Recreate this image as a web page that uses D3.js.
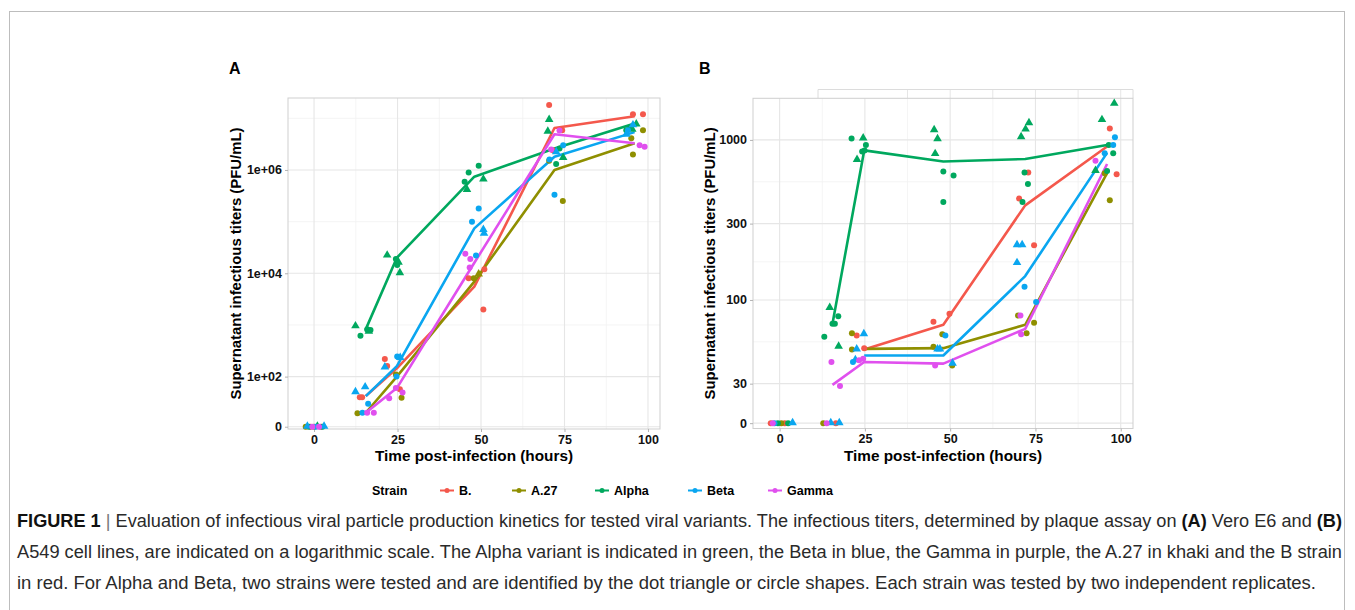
<!DOCTYPE html>
<html>
<head>
<meta charset="utf-8">
<script src="https://cdn.jsdelivr.net/npm/d3@7"></script>
<style>
  body { margin: 0; background: #fff; }
  svg { display: block; }
</style>
</head>
<body>
<script>
// strains and their colours (ggplot hue palette, a little deeper as printed)
var strains = ["B.", "A.27", "Alpha", "Beta", "Gamma"];
var strainColors = ["#F4584C", "#8F8F00", "#00A85E", "#0AA6F0", "#E050EE"];

// hours where the mean lines have their vertices
var lineHours = [15.5, 24.8, 48, 72, 96];

// panel A (Vero E6) mean lines, PFU/mL, null = no vertex
var lineA_B     = [42, 145, 5500, 6.5e6, 1.1e7];
var lineA_A27   = [20, 100, 6900, 1.0e6, 3.3e6];
var lineA_Alpha = [830, 2.0e4, 7.4e5, 2.6e6, 7.9e6];
var lineA_Beta  = [42, 160, 7.4e4, 1.8e6, 5.4e6];
var lineA_Gamma = [20, 60, 1.6e4, 4.9e6, 3.3e6];

// panel B (A549) mean lines
var lineB_B     = [null, 49, 70, 390, 910];
var lineB_A27   = [null, 49.5, 50, 70, 620];
var lineB_Alpha = [71, 860, 733, 760, 930];
var lineB_Beta  = [null, 45, 45, 141, 830];
var lineB_Gamma = [29.5, 41, 40, 66, 707];

// replicate points: [hour (as jittered), titer, shape c=circle t=triangle]
var ptsA_B = [[-1, 0, "c"], [2, 0, "c"], [13.7, 40, "c"], [14.4, 40, "c"], [21.2, 220, "c"], [21.9, 160, "c"], [25.7, 57, "c"],
  [46.3, 8000, "c"], [51, 1.2e4, "c"], [50.7, 2000, "c"], [70.4, 1.8e7, "c"], [74.3, 5.9e6, "c"], [71.5, 2.4e6, "c"],
  [95.5, 1.2e7, "c"], [98.5, 1.2e7, "c"]];
var ptsA_A27 = [[0, 0, "c"], [-2.5, 0, "c"], [13, 19.5, "c"], [24.5, 110, "c"], [26.2, 39, "c"],
  [47.8, 8000, "c"], [49.3, 9500, "t"], [70.4, 1.5e6, "c"], [74.5, 2.5e5, "c"],
  [98.5, 5.9e6, "c"], [95, 4.1e6, "c"], [95.5, 2.0e6, "c"]];
var ptsA_Alpha = [[-1.5, 0, "c"], [1, 0, "t"], [2.5, 0, "c"], [12.4, 940, "t"], [13.9, 620, "c"], [15.9, 820, "c"], [16.9, 800, "c"], [16.4, 740, "t"],
  [21.9, 2.2e4, "t"], [24.5, 1.9e4, "c"], [25.3, 1.6e4, "t"], [25.7, 1.0e4, "t"], [24.9, 1.45e4, "c"],
  [46.3, 8.9e5, "c"], [49.3, 1.2e6, "c"], [45.1, 5.9e5, "c"], [45.8, 4.1e5, "t"], [50.7, 6.5e5, "t"],
  [70.4, 9.3e6, "t"], [70, 5.5e6, "t"], [72.5, 1.3e6, "c"], [74.6, 1.7e6, "t"], [73.5, 2.6e6, "c"],
  [96.5, 7.6e6, "t"], [93.5, 5.9e6, "c"], [94.5, 6.5e6, "c"], [95.3, 6.0e6, "t"]];
var ptsA_Beta = [[-2, 0, "t"], [0.5, 0, "c"], [3, 0, "t"], [12.4, 50, "t"], [15.3, 62, "t"], [16.2, 30, "c"], [14.5, 20, "c"],
  [21.2, 150, "t"], [24.9, 245, "c"], [25.8, 230, "t"], [24.7, 100, "c"],
  [49.3, 1.8e5, "c"], [47.3, 1.0e5, "c"], [50.7, 6.9e4, "t"], [50.9, 5.8e4, "t"], [48.5, 2.2e4, "c"],
  [72, 3.3e5, "c"], [74.6, 3.0e6, "c"], [72.5, 2.2e6, "t"], [70.5, 1.6e6, "c"],
  [94, 5.9e6, "c"], [95.5, 7.3e6, "t"], [93.5, 4.8e6, "t"]];
var ptsA_Gamma = [[1.5, 0, "c"], [-0.5, 0, "c"], [15.9, 20, "c"], [17.9, 20, "c"], [22.5, 38, "c"], [26.5, 49, "c"], [24.5, 60, "c"],
  [45.3, 2.4e4, "c"], [46.8, 1.9e4, "c"], [46.6, 1.3e4, "c"], [73.5, 5.8e6, "c"], [71, 2.5e6, "c"],
  [97.5, 3.0e6, "c"], [99, 2.8e6, "c"]];

var ptsB_B = [[-2.6, 0, "c"], [1.5, 0, "c"], [16.5, 0, "c"], [22.6, 60, "c"], [24.8, 50, "c"],
  [45.1, 73, "c"], [49.8, 82, "c"], [72.9, 625, "c"], [70.2, 430, "c"], [74.6, 220, "c"],
  [96.8, 1180, "c"], [98.8, 610, "c"]];
var ptsB_A27 = [[0.5, 0, "c"], [12.8, 0, "c"], [21.2, 62, "c"], [21.2, 49, "c"],
  [47.7, 61, "c"], [45.1, 51, "c"], [50.6, 39, "c"], [69.9, 80, "c"], [72.4, 62, "c"], [74.6, 72, "c"],
  [96.8, 420, "c"], [95.3, 620, "c"]];
var ptsB_Alpha = [[-0.5, 0, "c"], [2.5, 0, "c"], [14.7, 89, "t"], [17.2, 79, "c"], [15.5, 71, "c"], [16.2, 71, "c"], [13.1, 59, "c"], [17.3, 51, "t"],
  [21.1, 1020, "c"], [24.5, 1020, "t"], [25.3, 930, "c"], [24.2, 845, "c"], [24.9, 860, "c"], [22.7, 750, "t"],
  [45.3, 1150, "t"], [46.3, 1010, "t"], [45.6, 815, "t"], [48, 635, "c"], [51, 600, "c"], [48, 410, "c"],
  [70.8, 1040, "t"], [72.1, 1160, "t"], [73.1, 1270, "t"], [71.8, 625, "c"], [72.8, 530, "c"], [71.2, 410, "c"],
  [94.5, 1330, "t"], [98.1, 1680, "t"], [92.6, 640, "t"], [97.8, 825, "c"], [96.5, 930, "c"], [96, 640, "c"]];
var ptsB_Beta = [[-1.5, 0, "c"], [3.8, 0, "t"], [15, 0, "t"], [17.5, 0, "t"],
  [24.7, 61, "t"], [22.6, 49, "t"], [21.5, 41, "c"], [22.2, 42, "t"],
  [48.6, 60, "c"], [46.3, 49, "t"], [47, 49, "t"], [50.7, 40, "t"],
  [69.6, 220, "t"], [71.1, 220, "t"], [69.6, 170, "t"], [71.8, 121, "c"], [75.2, 97, "c"],
  [98.3, 1040, "c"], [97.8, 930, "c"], [95.3, 825, "c"]];
var ptsB_Gamma = [[-2, 0, "c"], [13.8, 0, "c"], [15.2, 41, "c"], [17.7, 29, "c"], [23.3, 42, "c"], [24.5, 43, "c"],
  [45.6, 39, "c"], [70.6, 80, "c"], [70.8, 61, "c"], [92.6, 740, "c"]];

// tick labels
var xTicks = [0, 25, 50, 75, 100];
var yTicksA = [0, 1e2, 1e4, 1e6];
var yTickLabelsA = ["0", "1e+02", "1e+04", "1e+06"];
var yMinorA = [1e3, 1e5, 1e7];
var yTicksB = [0, 30, 100, 300, 1000];
var yTickLabelsB = ["0", "30", "100", "300", "1000"];
var yMinorB = [54.8, 173.2, 547.7];

var captionLines = [
  [["FIGURE 1", "b"], [" | ", "bar"], ["Evaluation of infectious viral particle production kinetics for tested viral variants. The infectious titers, determined by plaque assay on ", "n"], ["(A)", "b"], [" Vero E6 and ", "n"], ["(B)", "b"]],
  [["A549 cell lines, are indicated on a logarithmic scale. The Alpha variant is indicated in green, the Beta in blue, the Gamma in purple, the A.27 in khaki and the B strain", "n"]],
  [["in red. For Alpha and Beta, two strains were tested and are identified by the dot triangle or circle shapes. Each strain was tested by two independent replicates.", "n"]]
];

var W = 1355, H = 610;
var svg = d3.select("body").append("svg").attr("width", W).attr("height", H)
  .style("font-family", "'Liberation Sans', Arial, sans-serif");

// outer frame
svg.append("rect").attr("x", 9.5).attr("y", 11.5).attr("width", 1335).attr("height", 620)
  .attr("fill", "none").attr("stroke", "#bdbdbd").attr("stroke-width", 1);

function drawPanel(cfg) {
  var x = d3.scaleLinear().domain([-7.8, 103.6]).range([cfg.left, cfg.right]);
  var y = d3.scaleLog().domain(cfg.yDomain).range([cfg.bottom, cfg.top]);
  var yv = function(v) { return y(v === 0 ? cfg.zero : v); };
  var g = svg.append("g");

  // minor grid
  [12.5, 37.5, 62.5, 87.5].forEach(function(t) {
    g.append("line").attr("x1", x(t)).attr("x2", x(t)).attr("y1", cfg.top).attr("y2", cfg.bottom)
      .attr("stroke", "#f1f1f1").attr("stroke-width", 0.8);
  });
  cfg.yMinor.forEach(function(v) {
    if (y(v) < cfg.top) return;
    g.append("line").attr("x1", cfg.left).attr("x2", cfg.right).attr("y1", y(v)).attr("y2", y(v))
      .attr("stroke", "#f1f1f1").attr("stroke-width", 0.8);
  });
  // major grid
  xTicks.forEach(function(t) {
    g.append("line").attr("x1", x(t)).attr("x2", x(t)).attr("y1", cfg.top).attr("y2", cfg.bottom)
      .attr("stroke", "#e6e6e6").attr("stroke-width", 1.1);
  });
  cfg.yTicks.forEach(function(v) {
    g.append("line").attr("x1", cfg.left).attr("x2", cfg.right).attr("y1", yv(v)).attr("y2", yv(v))
      .attr("stroke", "#e6e6e6").attr("stroke-width", 1.1);
  });
  g.append("rect").attr("x", cfg.left).attr("y", cfg.top)
    .attr("width", cfg.right - cfg.left).attr("height", cfg.bottom - cfg.top)
    .attr("fill", "none").attr("stroke", "#cfcfcf").attr("stroke-width", 1);

  // axes
  var ax = g.append("g").attr("transform", "translate(" + cfg.left + ",0)")
    .call(d3.axisLeft(y).tickValues(cfg.yTicks.map(function(v) { return v === 0 ? cfg.zero : v; }))
      .tickFormat(function(d, i) { return cfg.yLabels[i]; }).tickSize(3).tickPadding(3));
  var bx = g.append("g").attr("transform", "translate(0," + cfg.bottom + ")")
    .call(d3.axisBottom(x).tickValues(xTicks).tickFormat(d3.format("d")).tickSize(3).tickPadding(3));
  [ax, bx].forEach(function(a) {
    a.select(".domain").remove();
    a.selectAll(".tick line").attr("stroke", "#b3b3b3");
    a.selectAll(".tick text").attr("fill", "#111").style("font-size", "12.5px").style("font-weight", "bold")
      .style("font-family", "'Liberation Sans', Arial, sans-serif");
  });

  // lines
  var line = d3.line().defined(function(d) { return d[1] !== null; })
    .x(function(d) { return x(d[0]); }).y(function(d) { return y(d[1]); });
  cfg.lines.forEach(function(vals, i) {
    var pts = vals.map(function(v, j) { return [lineHours[j], v]; });
    g.append("path").datum(pts).attr("d", line).attr("fill", "none")
      .attr("stroke", strainColors[i]).attr("stroke-width", 2.6).attr("stroke-linejoin", "round");
  });

  // points
  var tri = d3.symbol().type(d3.symbolTriangle).size(32);
  cfg.points.forEach(function(pts, i) {
    var pg = g.append("g").attr("fill", strainColors[i]);
    pg.selectAll("circle").data(pts.filter(function(p) { return p[2] === "c"; })).enter().append("circle")
      .attr("cx", function(p) { return x(p[0]); }).attr("cy", function(p) { return yv(p[1]); }).attr("r", 3);
    pg.selectAll("path").data(pts.filter(function(p) { return p[2] === "t"; })).enter().append("path")
      .attr("d", tri)
      .attr("transform", function(p) { return "translate(" + x(p[0]) + "," + (yv(p[1]) - 0.5) + ")"; });
  });

  // titles
  svg.append("text").attr("x", cfg.labelX).attr("y", 74).text(cfg.label)
    .style("font-size", "16px").style("font-weight", "bold");
  svg.append("text").attr("transform", "translate(" + cfg.yTitleX + "," + ((cfg.top + cfg.bottom) / 2) + ") rotate(-90)")
    .attr("text-anchor", "middle").text("Supernatant infectious titers (PFU/mL)")
    .attr("textLength", 272).attr("lengthAdjust", "spacingAndGlyphs")
    .style("font-size", "15px").style("font-weight", "bold");
  svg.append("text").attr("x", (cfg.left + cfg.right) / 2).attr("y", 461)
    .attr("text-anchor", "middle").text("Time post-infection (hours)")
    .attr("textLength", 198).attr("lengthAdjust", "spacingAndGlyphs")
    .style("font-size", "15px").style("font-weight", "bold");
  return x;
}

drawPanel({
  left: 288, right: 660, top: 98, bottom: 429,
  yDomain: [Math.pow(10, 0.986), Math.pow(10, 7.393)], zero: Math.pow(10, 1.03),
  yTicks: yTicksA, yLabels: yTickLabelsA, yMinor: yMinorA,
  lines: [lineA_B, lineA_A27, lineA_Alpha, lineA_Beta, lineA_Gamma],
  points: [ptsA_B, ptsA_A27, ptsA_Alpha, ptsA_Beta, ptsA_Gamma],
  label: "A", labelX: 229, yTitleX: 241
});

// small strip above panel B (as in the source figure)
var xb = d3.scaleLinear().domain([-7.8, 103.6]).range([753, 1133]);
[37.5, 50, 62.5, 75, 87.5, 100].forEach(function(t) {
  svg.append("line").attr("x1", xb(t)).attr("x2", xb(t)).attr("y1", 89).attr("y2", 98)
    .attr("stroke", "#e6e6e6").attr("stroke-width", 1);
});
svg.append("polyline").attr("points", "818,98 818,89.5 1133,89.5 1133,98")
  .attr("fill", "none").attr("stroke", "#dcdcdc").attr("stroke-width", 1);

drawPanel({
  left: 753, right: 1133, top: 98.3, bottom: 428.5,
  yDomain: [Math.pow(10, 1.197), Math.pow(10, 3.26)], zero: 17,
  yTicks: yTicksB, yLabels: yTickLabelsB, yMinor: yMinorB,
  lines: [lineB_B, lineB_A27, lineB_Alpha, lineB_Beta, lineB_Gamma],
  points: [ptsB_B, ptsB_A27, ptsB_Alpha, ptsB_Beta, ptsB_Gamma],
  label: "B", labelX: 699, yTitleX: 715
});

// legend
var legX = [440, 512, 595, 688, 768];
var lg = svg.append("g").style("font-size", "12.5px").style("font-weight", "bold");
lg.append("text").attr("x", 372).attr("y", 495).text("Strain");
strains.forEach(function(s, i) {
  lg.append("line").attr("x1", legX[i]).attr("x2", legX[i] + 14).attr("y1", 490.5).attr("y2", 490.5)
    .attr("stroke", strainColors[i]).attr("stroke-width", 2);
  lg.append("circle").attr("cx", legX[i] + 7).attr("cy", 490.5).attr("r", 2.5).attr("fill", strainColors[i]);
  lg.append("text").attr("x", legX[i] + 19).attr("y", 495).text(s);
});

// caption (condensed look: larger glyphs squeezed to the printed line width)
var capY = [527, 558, 589];
var capW = [1325, 1325, 1299];
captionLines.forEach(function(parts, i) {
  var t = svg.append("text").attr("x", 17).attr("y", capY[i])
    .attr("textLength", capW[i]).attr("lengthAdjust", "spacingAndGlyphs")
    .style("font-family", "'Liberation Sans Narrow', 'Arial Narrow', 'Liberation Sans', sans-serif")
    .style("font-size", "17.5px").attr("fill", "#2a2a2a");
  parts.forEach(function(p) {
    var ts = t.append("tspan").text(p[0]);
    if (p[1] === "b") ts.style("font-weight", "bold").attr("fill", "#111");
    if (p[1] === "bar") ts.attr("fill", "#777");
  });
});
</script>
</body>
</html>
